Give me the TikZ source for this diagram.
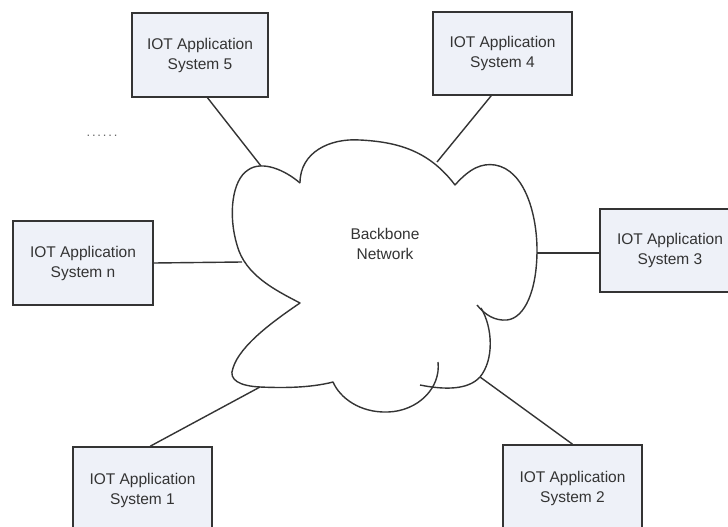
\documentclass[tikz,border=0pt]{standalone}
\usepackage{fontspec}
\setmainfont{Liberation Sans}
\definecolor{boxfill}{RGB}{238,241,248}
\definecolor{ink}{RGB}{52,52,52}
\begin{document}
\begin{tikzpicture}[x=1pt,y=-1pt,
  sysbox/.style={draw=ink, line width=1.6pt, fill=boxfill, align=center,
    text=ink, font=\fontsize{15.5}{20}\selectfont, inner sep=0pt},
  link/.style={draw=ink, line width=1.4pt},
  cloudline/.style={draw=ink, line width=1.4pt, line join=round}]
\useasboundingbox[fill=white] (0,0) rectangle (728,527);

% application systems
\node[sysbox, minimum width=136pt, minimum height=84pt] (s5) at (200,55)
  {IOT Application\\System 5};
\node[sysbox, minimum width=139pt, minimum height=83pt] (s4) at (502.5,53.5)
  {IOT Application\\System 4};
\node[sysbox, minimum width=140pt, minimum height=84pt] (sn) at (83,263)
  {IOT Application\\System n};
\node[sysbox, minimum width=140pt, minimum height=83pt] (s3) at (670,250.5)
  {IOT Application\\System 3};
\node[sysbox, minimum width=139pt, minimum height=86pt] (s1) at (142.5,490)
  {IOT Application\\System 1};
\node[sysbox, minimum width=139pt, minimum height=86pt] (s2) at (572.5,488)
  {IOT Application\\System 2};

% ellipsis for further systems
\node[text=ink!75, font=\fontsize{13}{13}\selectfont\addfontfeature{LetterSpace=14}]
  (more) at (102,136) {......};

% backbone cloud
\path[cloudline]
  (300,183) .. controls (300,152) and (330,138) .. (360,140)
            .. controls (400,142) and (430,152) .. (455,185)
            .. controls (470,168) and (482,163) .. (495,165)
            .. controls (525,170) and (537,215) .. (537,250)
            .. controls (537,290) and (525,318) .. (507,320)
            .. controls (495,321) and (485,315) .. (477,305);
\path[cloudline]
  (481,308) .. controls (493,328) and (494,360) .. (480,377)
            .. controls (468,390) and (445,390) .. (420,385);
\path[cloudline]
  (438,362) .. controls (441,388) and (418,411) .. (388,412)
            .. controls (360,413) and (340,398) .. (333,382)
            .. controls (310,388) and (282,388) .. (260,387)
            .. controls (240,386) and (228,380) .. (233,368)
            .. controls (240,345) and (275,320) .. (300,303)
            .. controls (275,290) and (245,275) .. (237,245)
            .. controls (228,215) and (232,180) .. (248,170)
            .. controls (262,160) and (285,170) .. (300,183);
\node[text=ink, align=center, font=\fontsize{15.5}{20}\selectfont] (bb) at (385,244)
  {Backbone\\Network};

% attachment points on the cloud
\coordinate (c5) at (261,166);
\coordinate (c4) at (437,162);
\coordinate (c3) at (537,253);
\coordinate (cn) at (242,262);
\coordinate (c1) at (260,387);
\coordinate (c2) at (480,377);

% links
\draw[link] (s5.-80) -- (c5);
\draw[link] (s4.-105) -- (c4);
\draw[link] (sn.east) -- (cn);
\draw[link] (s3.west |- c3) -- (c3);
\draw[link] (s1.80) -- (c1);
\draw[link] (s2.north) -- (c2);
\end{tikzpicture}
\end{document}
